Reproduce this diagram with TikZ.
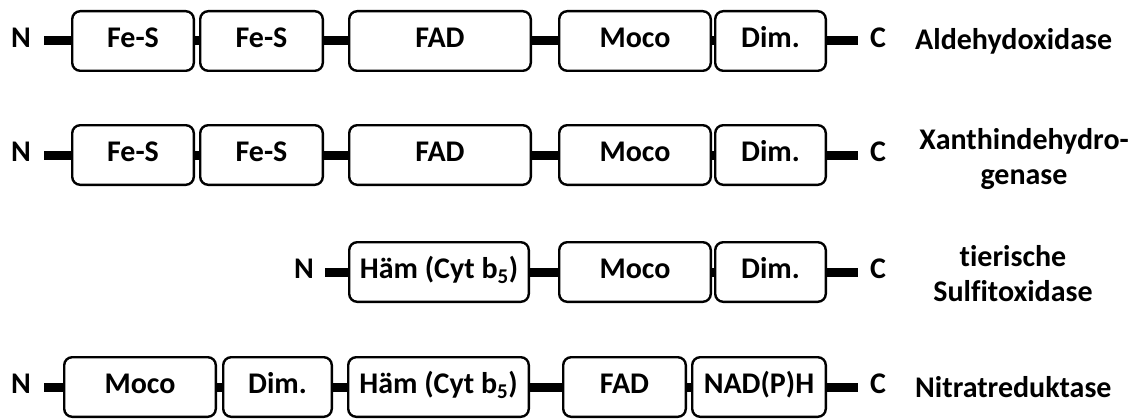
\documentclass[tikz,border=0pt]{standalone}
\usepackage{fontspec}
\setmainfont{Carlito}[Ligatures=NoCommon]
\begin{document}
\begin{tikzpicture}[x=1pt,y=-1pt,
  dom/.style={draw, line width=2.4pt, rounded corners=8pt, minimum height=59.6pt,
    inner sep=0pt, fill=white, text height=19pt, text depth=6pt,
    font=\fontsize{30}{34}\selectfont\bfseries},
  link/.style={line width=9pt},
  term/.style={inner sep=0pt, text height=19pt, text depth=6pt, font=\fontsize{30}{34}\selectfont\bfseries},
  enz/.style={inner sep=0pt, align=center, font=\fontsize{30}{35}\selectfont\bfseries}]
\useasboundingbox (0,0) rectangle (1136,420);
% Row 1
\node[term] (n1) at (21,41) {N};
\node[dom, minimum width=121.6pt] (a1) at (133,41) {Fe-S};
\node[dom, minimum width=122.6pt] (a2) at (261.5,41) {Fe-S};
\node[dom, minimum width=181.6pt] (a3) at (440,41) {FAD};
\node[dom, minimum width=151.6pt] (a4) at (635,41) {Moco};
\node[dom, minimum width=110.6pt] (a5) at (770.5,41) {Dim.};
\node[term] (c1) at (878,41) {C};
\node[enz, anchor=west] (e1) at (915,41) {Aldehydoxidase};
\draw[link, shorten <=13pt] (n1.east) -- (a1.west);
\draw[link] (a1.east) -- (a2.west);
\draw[link] (a2.east) -- (a3.west);
\draw[link] (a3.east) -- (a4.west);
\draw[link] (a4.east) -- (a5.west);
\draw[link, shorten >=12pt] (a5.east) -- (c1.west);
% Row 2
\node[term] (n2) at (21,155) {N};
\node[dom, minimum width=121.6pt] (b1) at (133,155) {Fe-S};
\node[dom, minimum width=122.6pt] (b2) at (261.5,155) {Fe-S};
\node[dom, minimum width=181.6pt] (b3) at (440,155) {FAD};
\node[dom, minimum width=151.6pt] (b4) at (635,155) {Moco};
\node[dom, minimum width=110.6pt] (b5) at (770.5,155) {Dim.};
\node[term] (c2) at (878,155) {C};
\node[enz] (e2) at (1024,159) {Xanthindehydro-\\genase};
\draw[link, shorten <=13pt] (n2.east) -- (b1.west);
\draw[link] (b1.east) -- (b2.west);
\draw[link] (b2.east) -- (b3.west);
\draw[link] (b3.east) -- (b4.west);
\draw[link] (b4.east) -- (b5.west);
\draw[link, shorten >=12pt] (b5.east) -- (c2.west);
% Row 3
\node[term] (n3) at (304,272) {N};
\node[dom, minimum width=179.6pt] (d1) at (439,272) {Häm (Cyt b\textsubscript{5})};
\node[dom, minimum width=151.6pt] (d2) at (635,272) {Moco};
\node[dom, minimum width=110.6pt] (d3) at (770.5,272) {Dim.};
\node[term] (c3) at (878,272) {C};
\node[enz] (e3) at (1013,274) {tierische\\Sulfitoxidase};
\draw[link, shorten <=11pt] (n3.east) -- (d1.west);
\draw[link] (d1.east) -- (d2.west);
\draw[link] (d2.east) -- (d3.west);
\draw[link, shorten >=12pt] (d3.east) -- (c3.west);
% Row 4
\node[term] (n4) at (21,387) {N};
\node[dom, minimum width=151.6pt] (f1) at (140,387) {Moco};
\node[dom, minimum width=108.6pt] (f2) at (277.5,387) {Dim.};
\node[dom, minimum width=180.6pt] (f3) at (438.5,387) {Häm (Cyt b\textsubscript{5})};
\node[dom, minimum width=122.6pt] (f4) at (624.5,387) {FAD};
\node[dom, minimum width=133.6pt] (f5) at (759,387) {NAD(P)H};
\node[term] (c4) at (878,387) {C};
\node[enz, anchor=west] (e4) at (915,387) {Nitratreduktase};
\draw[link, shorten <=13pt] (n4.east) -- (f1.west);
\draw[link] (f1.east) -- (f2.west);
\draw[link] (f2.east) -- (f3.west);
\draw[link] (f3.east) -- (f4.west);
\draw[link] (f4.east) -- (f5.west);
\draw[link, shorten >=12pt] (f5.east) -- (c4.west);
\end{tikzpicture}
\end{document}
